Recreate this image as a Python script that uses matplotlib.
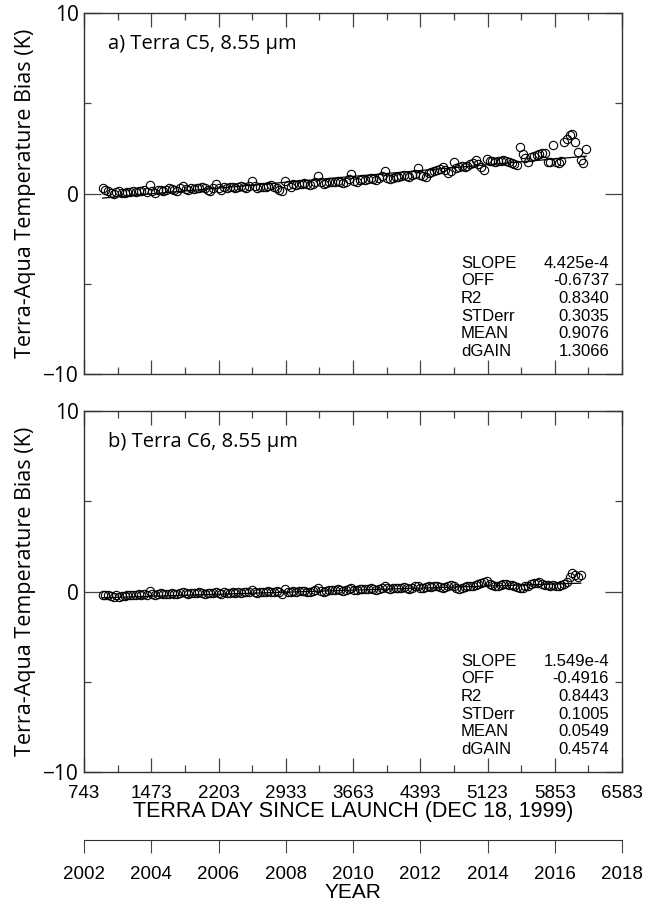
import numpy as np
import matplotlib
matplotlib.use("Agg")
import matplotlib.pyplot as plt
from matplotlib.ticker import FixedLocator

# sample days (Terra day since launch), roughly monthly
days = np.arange(945, 6220, 30)

# a) Terra C5, 8.55 um
bias_c5 = [
    0.28, 0.22, 0.12, 0.02, -0.05, 0.08, 0.15, 0.02, 0.05, 0.08, 0.06, 0.12,
    0.10, 0.14, 0.12, 0.18, 0.10, 0.45, 0.12, 0.02, 0.18, 0.22, 0.16, 0.20,
    0.28, 0.24, 0.20, 0.15, 0.30, 0.42, 0.25, 0.22, 0.30, 0.26, 0.32, 0.28,
    0.35, 0.30, 0.22, 0.15, 0.28, 0.52, 0.30, 0.20, 0.35, 0.32, 0.38, 0.34,
    0.30, 0.36, 0.42, 0.35, 0.30, 0.44, 0.68, 0.40, 0.28, 0.36, 0.34, 0.38,
    0.40, 0.45, 0.38, 0.30, 0.22, 0.14, 0.69, 0.45, 0.38, 0.50, 0.46, 0.52,
    0.55, 0.58, 0.52, 0.48, 0.55, 0.62, 0.97, 0.62, 0.55, 0.58, 0.64, 0.62,
    0.66, 0.70, 0.62, 0.58, 0.64, 0.80, 1.08, 0.72, 0.65, 0.75, 0.78, 0.74,
    0.80, 0.85, 0.82, 0.76, 0.88, 0.98, 1.25, 0.86, 0.80, 0.88, 0.92, 0.90,
    0.95, 1.00, 0.96, 0.92, 1.02, 1.10, 1.41, 1.00, 0.95, 0.92, 1.12, 1.20,
    1.22, 1.30, 1.38, 1.45, 1.30, 1.14, 1.25, 1.75, 1.42, 1.48, 1.52, 1.45,
    1.55, 1.62, 1.70, 1.85, 1.65, 1.45, 1.30, 1.91, 1.82, 1.78, 1.75, 1.80,
    1.80, 1.86, 1.80, 1.75, 1.70, 1.62, 1.58, 2.58, 2.19, 1.98, 1.75, 2.00,
    2.05, 2.12, 2.18, 2.22, 2.25, 1.75, 1.72, 2.70, 1.75, 1.70, 1.78, 2.85,
    3.00, 3.24, 3.30, 2.85, 2.30, 1.86, 1.69, 2.46,
]

# b) Terra C6, 8.55 um
bias_c6 = [
    -0.20, -0.22, -0.20, -0.25, -0.28, -0.22, -0.30, -0.26, -0.24, -0.20, -0.22, -0.18,
    -0.20, -0.16, -0.18, -0.15, -0.20, 0.02, -0.12, -0.20, -0.14, -0.10, -0.12, -0.16,
    -0.12, -0.08, -0.12, -0.15, -0.10, -0.02, -0.08, -0.12, -0.06, -0.10, -0.08, -0.05,
    -0.08, -0.12, -0.06, -0.10, -0.08, -0.04, -0.10, -0.12, -0.05, -0.08, -0.06, -0.03,
    -0.06, -0.02, -0.08, -0.05, -0.02, 0.00, 0.08, -0.04, -0.08, -0.02, -0.05, 0.00,
    0.02, -0.04, -0.02, 0.02, -0.05, -0.15, 0.15, 0.00, -0.04, 0.02, 0.00, 0.04,
    0.02, 0.05, 0.00, -0.03, 0.04, 0.08, 0.18, 0.05, 0.00, 0.04, 0.08, 0.06,
    0.08, 0.12, 0.06, 0.02, 0.08, 0.12, 0.22, 0.10, 0.06, 0.12, 0.15, 0.12,
    0.15, 0.18, 0.12, 0.08, 0.15, 0.20, 0.28, 0.18, 0.15, 0.20, 0.22, 0.18,
    0.20, 0.24, 0.20, 0.16, 0.22, 0.28, 0.32, 0.22, 0.18, 0.24, 0.28, 0.26,
    0.28, 0.32, 0.26, 0.22, 0.25, 0.30, 0.35, 0.28, 0.20, 0.16, 0.22, 0.26,
    0.30, 0.32, 0.28, 0.35, 0.40, 0.45, 0.50, 0.58, 0.42, 0.35, 0.28, 0.32,
    0.36, 0.40, 0.42, 0.38, 0.35, 0.30, 0.26, 0.22, 0.20, 0.28, 0.32, 0.40,
    0.45, 0.48, 0.50, 0.44, 0.38, 0.35, 0.30, 0.35, 0.32, 0.28, 0.35, 0.42,
    0.55, 0.83, 1.00, 0.92, 0.83, 0.89,
]

stat_names = ["SLOPE", "OFF", "R2", "STDerr", "MEAN", "dGAIN"]
stats_c5 = ["4.425e-4", "-0.6737", "0.8340", "0.3035", "0.9076", "1.3066"]
stats_c6 = ["1.549e-4", "-0.4916", "0.8443", "0.1005", "0.0549", "0.4574"]
slopes = [4.425e-4, 1.549e-4]
offsets = [-0.6737, -0.4916]

day_ticks = [743, 1473, 2203, 2933, 3663, 4393, 5123, 5853, 6583]
day_minor = [1108, 1838, 2568, 3298, 4028, 4758, 5488, 6218]
year_ticks = list(range(2002, 2019, 2))

titles = ["a) Terra C5, 8.55 \u00b5m", "b) Terra C6, 8.55 \u00b5m"]

W, H = 651, 907
fig = plt.figure(figsize=(W / 100, H / 100), dpi=100)


def fx(px):
    return px / W


def fy(py):
    return 1 - py / H


hum = "Open Sans"
helv = "Liberation Sans"

panels = [(13, 374), (411, 772)]
series = [bias_c5, bias_c6]
stats = [stats_c5, stats_c6]
left, right = 84, 622

for k in range(2):
    top, bot = panels[k]
    ax = fig.add_axes([fx(left), fy(bot), fx(right - left), fy(top) - fy(bot)])
    vals = np.array(series[k])
    d = days[:len(vals)]
    ax.plot(d, vals, "o", mfc="none", mec="black", ms=6, mew=0.8)
    xl = np.array([d[0], d[-1]])
    ax.plot(xl, offsets[k] + slopes[k] * xl, color="black", lw=0.9)

    ax.set_xlim(743, 6583)
    ax.set_ylim(-10, 10)
    ax.set_xticks(day_ticks)
    ax.xaxis.set_minor_locator(FixedLocator(day_minor))
    ax.set_yticks([-10, 0, 10])
    ax.yaxis.set_minor_locator(FixedLocator([-5, 5]))
    ax.tick_params(which="both", direction="in", top=True, right=True, width=0.9,
                   color="#444444")
    ax.tick_params(which="major", length=10)
    ax.tick_params(which="minor", length=5)
    ax.tick_params(axis="y", which="major", length=12, pad=4)
    ax.tick_params(axis="x", which="major", pad=9)
    for sp in ax.spines.values():
        sp.set_linewidth(1.0)
        sp.set_color("#333333")
    for lab in ax.get_yticklabels():
        lab.set_fontfamily(hum)
        lab.set_fontsize(15)
    if k == 0:
        ax.set_xticklabels([])
    else:
        ax.set_xticklabels([str(t) for t in day_ticks], fontfamily=helv, fontsize=13.5)
        ax.set_xlabel("TERRA DAY SINCE LAUNCH (DEC 18, 1999)", fontfamily=helv,
                      fontsize=15.5, labelpad=0)
    ax.set_ylabel("Terra-Aqua Temperature Bias (K)", fontfamily=hum, fontsize=15.5,
                  labelpad=5)
    ax.text(0.045, 0.915, titles[k], transform=ax.transAxes, fontfamily=hum,
            fontsize=14.5, va="center", ha="left")

    # regression statistics
    row0 = top + 250
    for j, (nm, v) in enumerate(zip(stat_names, stats[k])):
        yy = row0 + j * 17.7
        fig.text(fx(461), fy(yy), nm, fontfamily=helv, fontsize=12, va="center")
        fig.text(fx(609), fy(yy), v, fontfamily=helv, fontsize=12, va="center",
                 ha="right")

# year axis below
axy = fig.add_axes([fx(left), fy(840), fx(right - left), 0.001])
axy.set_xlim(2002, 2018)
axy.set_xticks(year_ticks)
axy.set_xticklabels([str(t) for t in year_ticks], fontfamily=helv, fontsize=13.5)
axy.set_yticks([])
for s in ["top", "left", "right"]:
    axy.spines[s].set_visible(False)
axy.spines["bottom"].set_color("#333333")
axy.tick_params(axis="x", direction="out", length=9, color="#444444", pad=10)
axy.set_xlabel("YEAR", fontfamily=helv, fontsize=15, labelpad=0)
axy.patch.set_visible(False)

fig.savefig("out.png", dpi=100)
